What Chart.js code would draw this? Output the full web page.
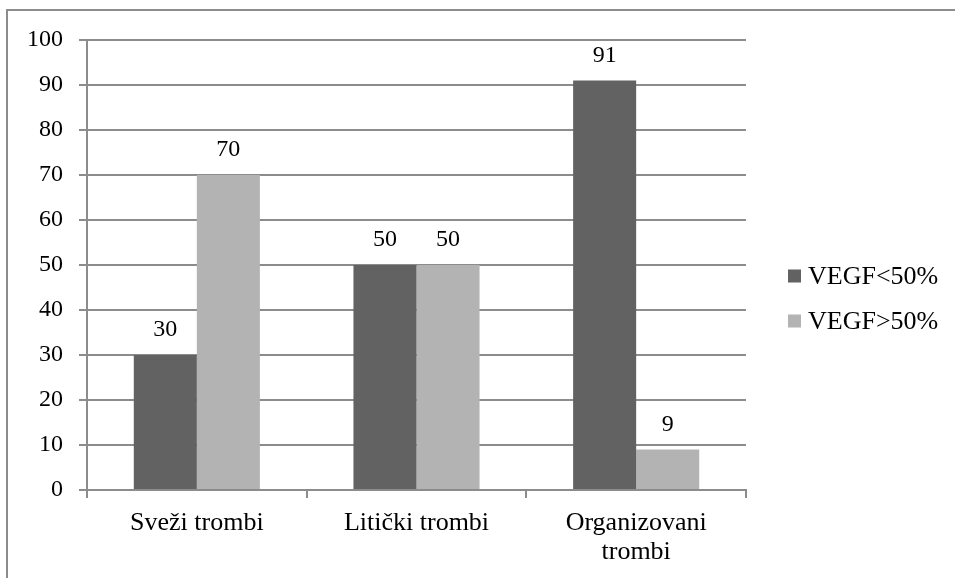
<!DOCTYPE html>
<html>
<head>
<meta charset="utf-8">
<script src="https://cdn.jsdelivr.net/npm/chart.js@4/dist/chart.umd.min.js"></script>
<style>
    html, body { margin: 0; padding: 0; background: #fff; overflow: hidden; }
    #okvir {
        position: absolute; left: 6px; top: 9px; width: 1100px; height: 700px;
        border: 2px solid #8c8c8c; box-sizing: border-box;
    }
    #wrap { position: absolute; left: 0; top: 0; width: 955px; height: 578px; }
</style>
</head>
<body>
<div id="okvir"></div>
<div id="wrap"><canvas id="grafikon"></canvas></div>
<script>
// podaci
const kategorije = ['Sveži trombi', 'Litički trombi', ['Organizovani', 'trombi']];
const nazivi = ['VEGF<50%', 'VEGF>50%'];
const vegfManje = [30, 50, 91];
const vegfVece = [70, 50, 9];
const yTicks = [0, 10, 20, 30, 40, 50, 60, 70, 80, 90, 100];

const FONT = "'Liberation Serif', 'Times New Roman', serif";
const SIVA = '#8c8c8c';

// vrijednosti iznad stubova
const oznakePlugin = {
    id: 'oznake',
    afterDatasetsDraw(chart) {
        const ctx = chart.ctx;
        ctx.save();
        ctx.font = '24px ' + FONT;
        ctx.fillStyle = '#000';
        ctx.textAlign = 'center';
        ctx.textBaseline = 'middle';
        chart.data.datasets.forEach((ds, i) => {
            chart.getDatasetMeta(i).data.forEach((bar, j) => {
                ctx.fillText(String(ds.data[j]), bar.x, bar.y - 25);
            });
        });
        ctx.restore();
    }
};

// legenda desno
const legendaPlugin = {
    id: 'legenda',
    afterDraw(chart) {
        const ctx = chart.ctx;
        ctx.save();
        ctx.font = '26px ' + FONT;
        ctx.textBaseline = 'middle';
        ctx.textAlign = 'left';
        chart.data.datasets.forEach((ds, i) => {
            const y = 276 + i * 45;
            ctx.fillStyle = ds.backgroundColor;
            ctx.fillRect(788, y - 6.5, 13, 13);
            ctx.fillStyle = '#000';
            ctx.fillText(ds.label, 808, y + 1);
        });
        ctx.restore();
    }
};

new Chart(document.getElementById('grafikon'), {
    type: 'bar',
    data: {
        labels: kategorije,
        datasets: [
            { label: nazivi[0], data: vegfManje, backgroundColor: '#626262' },
            { label: nazivi[1], data: vegfVece, backgroundColor: '#b3b3b3' }
        ]
    },
    options: {
        responsive: true,
        maintainAspectRatio: false,
        animation: false,
        events: [],
        layout: { padding: { top: 40, right: 209, bottom: 0, left: 0 } },
        datasets: { bar: { categoryPercentage: 0.574, barPercentage: 1 } },
        plugins: {
            legend: { display: false },
            tooltip: { enabled: false }
        },
        scales: {
            x: {
                grid: { display: true, drawOnChartArea: false, color: SIVA, lineWidth: 2, tickLength: 8, offset: true },
                border: { color: SIVA, width: 2 },
                ticks: { color: '#000', font: { family: FONT, size: 26, lineHeight: 1.1 }, padding: 11, maxRotation: 0, autoSkip: false },
                afterFit(scale) { scale.height = 88; }
            },
            y: {
                min: 0,
                max: 100,
                afterBuildTicks(scale) { scale.ticks = yTicks.map(v => ({ value: v })); },
                grid: { color: SIVA, lineWidth: 2, tickLength: 8 },
                border: { color: SIVA, width: 2 },
                ticks: { color: '#000', font: { family: FONT, size: 24 }, padding: 16 },
                afterFit(scale) { scale.width = 87; }
            }
        }
    },
    plugins: [oznakePlugin, legendaPlugin]
});
</script>
</body>
</html>
